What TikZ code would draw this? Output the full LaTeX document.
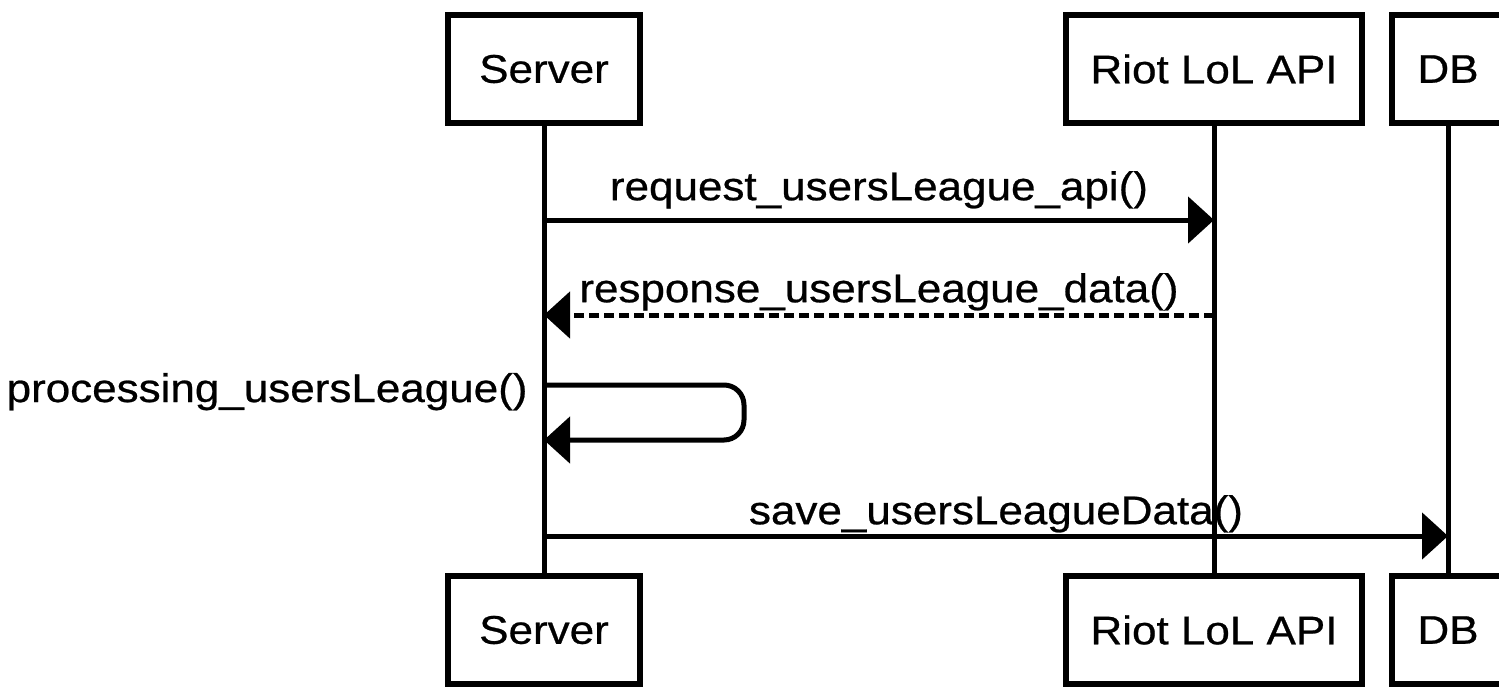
\documentclass[tikz,border=0pt]{standalone}
\usepackage{fontspec}
\setmainfont[FakeStretch=1.1,FakeBold=0.6]{Liberation Sans}
\usetikzlibrary{arrows.meta,positioning}

\begin{document}
\begin{tikzpicture}[x=0.5pt,y=-0.5pt,>={Triangle[length=13pt,width=23pt]},
    node distance=280.5pt,
    lane/.style={draw,line width=3pt,minimum height=54pt,inner sep=0pt,
      font=\fontsize{20}{23}\selectfont},
    life/.style={line width=2.5pt},
    msg/.style={->,line width=2.5pt},
    reply/.style={msg,dash pattern=on 5pt off 2.5pt},
    lbl/.style={font=\fontsize{20}{23}\selectfont,inner sep=0pt}]

  \useasboundingbox (0,0) rectangle (1499,687);
  \clip (0,0) rectangle (1499,687);

  % participants
  \node[lane,minimum width=96pt]  (srvTop) at (544,69)  {Server};
  \node[lane,minimum width=148pt] (apiTop) at (1214,69) {Riot LoL API};
  \node[lane,minimum width=56pt]  (dbTop)  at (1448,69) {DB};

  \node[lane,minimum width=96pt]  (srvBot) [below of=srvTop] {Server};
  \node[lane,minimum width=148pt] (apiBot) [below of=apiTop] {Riot LoL API};
  \node[lane,minimum width=56pt]  (dbBot)  [below of=dbTop]  {DB};

  % lifelines
  \draw[life] (srvTop) -- (srvBot);
  \draw[life] (apiTop) -- (apiBot);
  \draw[life] (dbTop) -- (dbBot);

  % messages
  \coordinate (m1) at (srvTop |- 0,220);
  \coordinate (m2) at (apiTop |- 0,315);
  \coordinate (m3) at (srvTop |- 0,385);
  \coordinate (m4) at (srvTop |- 0,440);
  \coordinate (m5) at (srvTop |- 0,536);

  \draw[msg] (m1) -- (m1 -| apiTop)
    node[lbl,midway,above=4.5pt] {request\_usersLeague\_api()};
  \draw[reply] (m2) -- (m2 -| srvTop)
    node[lbl,midway,above=1pt] {response\_usersLeague\_data()};
  \draw[msg,rounded corners=10pt] (m3) -- ++(200,0) -- ++(0,55) -- (m4);
  \node[lbl,anchor=base east] (procLbl) at ([xshift=-8pt,yshift=-8.5pt]m3)
    {processing\_usersLeague()};
  \draw[msg] (m5) -- (m5 -| dbTop)
    node[lbl,midway,above=0.5pt] {save\_usersLeagueData()};
\end{tikzpicture}
\end{document}
